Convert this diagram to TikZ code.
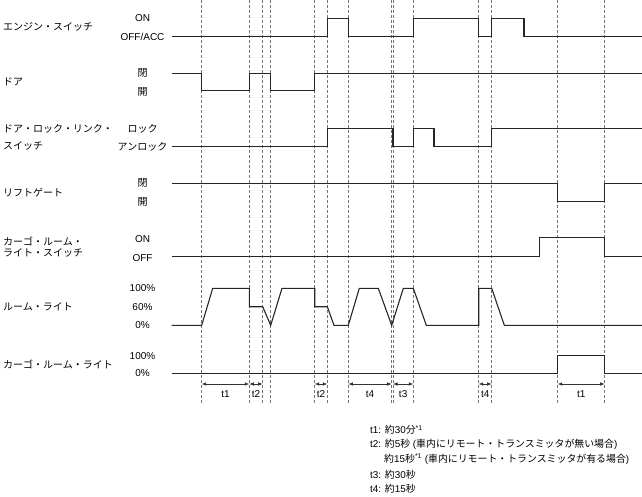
\documentclass[tikz,border=0pt]{standalone}
\usepackage{fontspec}
\setmainfont{Liberation Sans}
\newfontfamily\jp{Noto Sans CJK JP}
\usetikzlibrary{arrows.meta}
\begin{document}
\begin{tikzpicture}[x=1pt,y=-1pt,
  sig/.style={line width=1.1pt, draw=black!85, line join=miter},
  guide/.style={draw=black!55, dash pattern=on 3pt off 2pt, line width=0.6pt},
  lbl/.style={font=\jp\fontsize{10}{11}\selectfont, anchor=west, inner sep=0pt},
  lvl/.style={font=\fontsize{10}{11}\selectfont, anchor=center, inner sep=0pt},
  dimarr/.style={line width=0.6pt, draw=black!80, {Latex[length=4.5pt,width=3.5pt]}-{Latex[length=4.5pt,width=3.5pt]}},
  tlab/.style={font=\fontsize{10}{11}\selectfont, anchor=center, inner sep=0pt},
  note/.style={font=\fontsize{9.9}{11}\selectfont, anchor=west, inner sep=0pt}]
\useasboundingbox (0,0) rectangle (642,497);

% guide lines
\foreach \gx [count=\i] in {201.7,249.3,262.7,270.7,314.7,327.3,348.3,391.7,393,413.3,478.7,491.7,557.7,604.7}{
  \coordinate (gt\i) at (\gx,0);
  \coordinate (gb\i) at (\gx,403);
  \draw[guide] (gt\i) -- (gb\i);
}

% row labels
\node[lbl] (l1) at (3,27) {エンジン・スイッチ};
\node[lbl] (l2) at (3,82) {ドア};
\node[lbl] (l3a) at (3,129) {ドア・ロック・リンク・};
\node[lbl] (l3b) at (3,146) {スイッチ};
\node[lbl] (l4) at (3,193) {リフトゲート};
\node[lbl] (l5a) at (3,241) {カーゴ・ルーム・};
\node[lbl] (l5b) at (3,253) {ライト・スイッチ};
\node[lbl] (l6) at (3,307) {ルーム・ライト};
\node[lbl] (l7) at (3,364) {カーゴ・ルーム・ライト};

% level labels
\node[lvl] (v1a) at (142.5,18.3) {ON};
\node[lvl] (v1b) at (142.5,37) {OFF/ACC};
\node[lvl] (v2a) at (142.5,73.3) {\jp 閉};
\node[lvl] (v2b) at (142.5,92.3) {\jp 開};
\node[lvl] (v3a) at (142.5,129) {\jp ロック};
\node[lvl] (v3b) at (142.5,147) {\jp アンロック};
\node[lvl] (v4a) at (142.5,183.3) {\jp 閉};
\node[lvl] (v4b) at (142.5,202.3) {\jp 開};
\node[lvl] (v5a) at (142.5,239) {ON};
\node[lvl] (v5b) at (142.5,257.7) {OFF};
\node[lvl] (v6a) at (142.5,288.3) {100\%};
\node[lvl] (v6b) at (142.5,307) {60\%};
\node[lvl] (v6c) at (142.5,325.3) {0\%};
\node[lvl] (v7a) at (142.5,355.7) {100\%};
\node[lvl] (v7b) at (142.5,373.3) {0\%};

% engine switch
\draw[sig] (171.7,36.7) -- (327.3,36.7) -- (327.3,18.3) -- (348.3,18.3) -- (348.3,36.7)
  -- (413.3,36.7) -- (413.3,18.3) -- (478.7,18.3) -- (478.7,36.7) -- (491.7,36.7)
  -- (491.7,18.3) -- (524,18.3) -- (524,36.7) -- (642,36.7);
% door
\draw[sig] (171.7,73.7) -- (201.7,73.7) -- (201.7,90.7) -- (249.3,90.7) -- (249.3,73.7)
  -- (270.7,73.7) -- (270.7,90.7) -- (314.7,90.7) -- (314.7,73.7) -- (642,73.7);
% door lock link switch
\draw[sig] (171.7,146.7) -- (327.3,146.7) -- (327.3,128.3) -- (393,128.3) -- (393,146.7)
  -- (413.3,146.7) -- (413.3,128.3) -- (434,128.3) -- (434,146.7) -- (491.7,146.7)
  -- (491.7,128.3) -- (642,128.3);
% liftgate
\draw[sig] (171.7,183.3) -- (557.7,183.3) -- (557.7,201.7) -- (604.7,201.7) -- (604.7,183.3) -- (642,183.3);
% cargo room light switch
\draw[sig] (171.7,256.7) -- (539.3,256.7) -- (539.3,237.7) -- (604.7,237.7) -- (604.7,256.7) -- (642,256.7);
% room light
\draw[sig] (171.7,325.3) -- (201.7,325.3) -- (212.7,288.3) -- (249.3,288.3) -- (249.3,306.7)
  -- (262.7,306.7) -- (270.7,325.3) -- (282,288.3) -- (314.7,288.3) -- (314.7,306.7)
  -- (327.3,306.7) -- (334,325.3) -- (348.3,325.3) -- (359.3,288.3) -- (378.3,288.3)
  -- (391.7,325.3) -- (403.3,288.3) -- (413.3,288.3) -- (426.3,325.3) -- (478.7,325.3)
  -- (478.7,288.3) -- (491.7,288.3) -- (504.3,325.3) -- (642,325.3);
% cargo room light
\draw[sig] (171.7,373.3) -- (557.7,373.3) -- (557.7,355.7) -- (604.7,355.7) -- (604.7,373.3) -- (642,373.3);

% dimension arrows
\foreach \a/\b/\t [count=\k] in {201.7/249.3/t1, 249.3/262.7/t2, 314.7/327.3/t2, 348.3/391.7/t4, 393/413.3/t3, 478.7/491.7/t4, 557.7/604.7/t1}{
  \coordinate (da\k) at (\a,384);
  \coordinate (db\k) at (\b,384);
  \draw[dimarr] (da\k) -- (db\k);
  \node[tlab] (dt\k) at ({(\a+\b)/2},394.5) {\t};
}

% notes
\node[note] (n1) at (370,430) {t1: {\jp 約}30{\jp 分}\textsuperscript{*1}};
\node[note] (n2) at (370,444.5) {t2: {\jp 約}5{\jp 秒} ({\jp 車内にリモート・トランスミッタが無い場合})};
\node[note] (n3) at (384,459) {{\jp 約}15{\jp 秒}\textsuperscript{*1} ({\jp 車内にリモート・トランスミッタが有る場合})};
\node[note] (n4) at (370,474.5) {t3: {\jp 約}30{\jp 秒}};
\node[note] (n5) at (370,489) {t4: {\jp 約}15{\jp 秒}};
\end{tikzpicture}
\end{document}
